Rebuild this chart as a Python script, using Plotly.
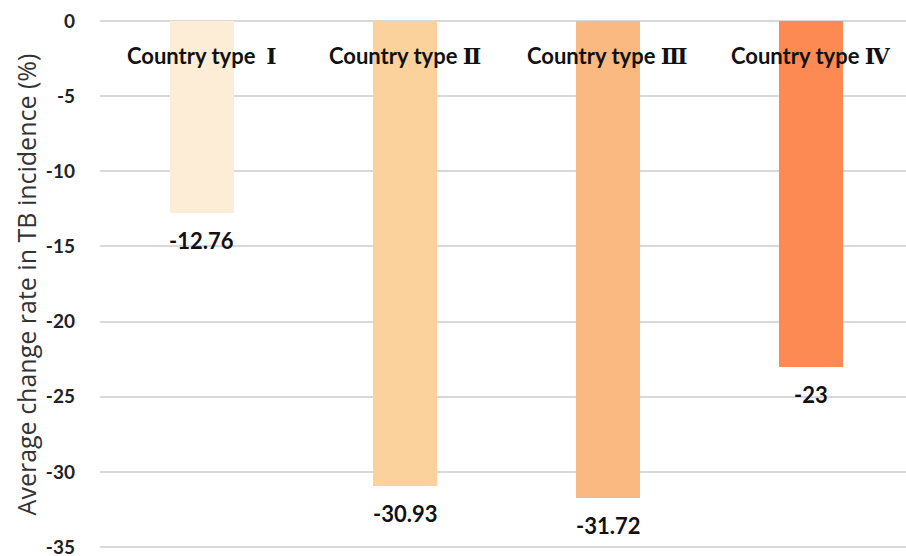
import plotly.graph_objects as go

categories = ["Country type  ", "Country type ", "Country type ", "Country type "]
numerals = ["Ⅰ", "Ⅱ", "Ⅲ", "Ⅳ"]
values = [-12.76, -30.93, -31.72, -23]
value_labels = ["-12.76", "-30.93", "-31.72", "-23"]
colors = ["#FDECD6", "#FBD29C", "#F9B980", "#FD8A53"]
tick_vals = [0, -5, -10, -15, -20, -25, -30, -35]

FONT = "Lato, 'Open Sans', sans-serif"

fig = go.Figure()
fig.add_trace(go.Bar(
    x=list(range(len(values))), y=values,
    marker=dict(color=colors, line=dict(width=0)),
    width=0.315, hoverinfo="skip", showlegend=False,
))

for i, (c, n, v, lab) in enumerate(zip(categories, numerals, values, value_labels)):
    txt = "<b>%s<span style='font-family:DejaVu Serif'>%s</span></b>" % (c.replace("  ", "&nbsp; "), n)
    fig.add_annotation(x=i, y=-2.3, text=txt, showarrow=False,
                       font=dict(family=FONT, size=22, color="#111111"),
                       xanchor="center", yanchor="middle")
    fig.add_annotation(x=i, y=v, text="<b>%s</b>" % lab, showarrow=False,
                       font=dict(family=FONT, size=22, color="#111111"),
                       xanchor="center", yanchor="top", yshift=-12)

fig.update_layout(
    width=906, height=556,
    margin=dict(l=100, r=0, t=20, b=7),
    plot_bgcolor="white", paper_bgcolor="white",
    bargap=0,
    xaxis=dict(range=[-0.502, 3.468], showticklabels=False, showgrid=False,
               zeroline=False, showline=False, ticks="", automargin=False),
    yaxis=dict(range=[-35.13, 0.067], tickvals=tick_vals, ticktext=["<b>%d</b>" % t for t in tick_vals],
               showgrid=True, gridcolor="#D9D9D9", gridwidth=2,
               zeroline=False, showline=False, ticks="", automargin=False,
               tickfont=dict(family=FONT, size=19, color="#222222"),
               ticklabelstandoff=24, ticklabeloverflow="allow",
               title=dict(text="Average change rate in TB incidence (%)",
                          font=dict(family="'Open Sans', sans-serif", size=25, color="#333333"),
                          standoff=2)),
)

fig.write_html("out.html")
